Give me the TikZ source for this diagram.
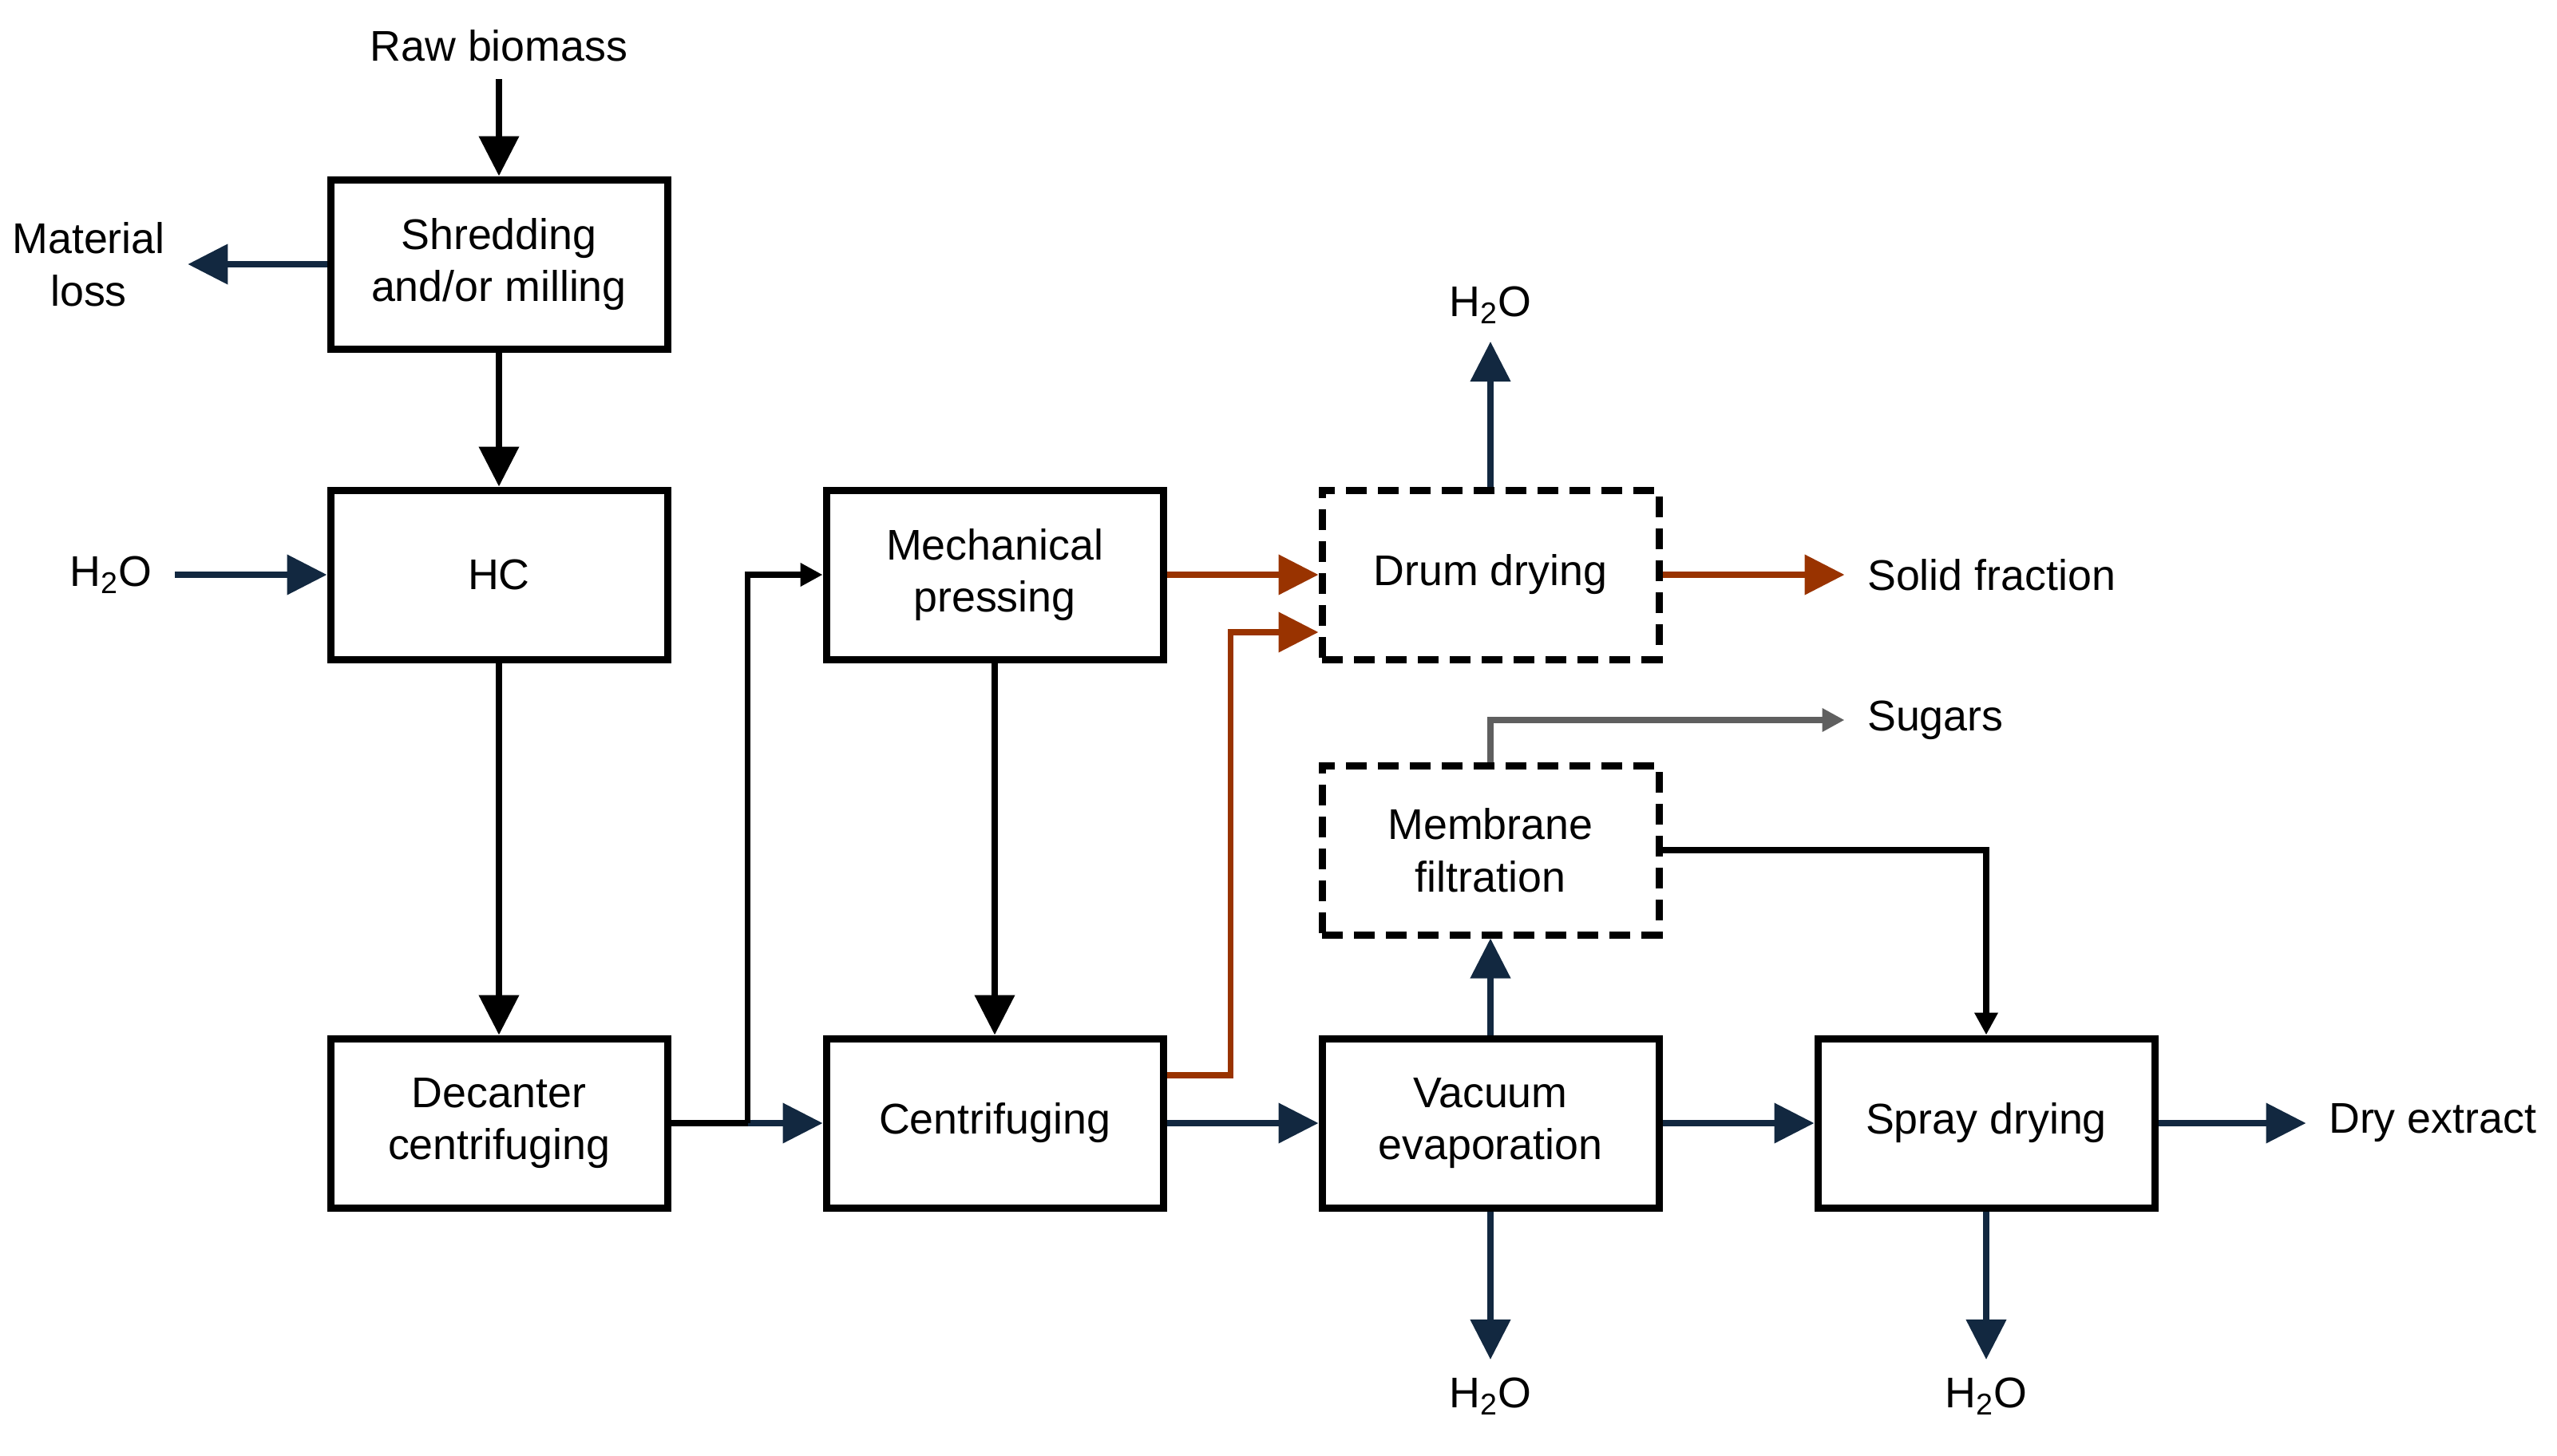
\documentclass[tikz,border=0pt]{standalone}
\usepackage{fontspec}
\setmainfont{Liberation Sans}
\usetikzlibrary{arrows.meta,positioning}
\definecolor{navy}{RGB}{18,40,64}
\definecolor{rust}{RGB}{153,51,0}
\definecolor{sugargray}{RGB}{95,95,95}

\begin{document}
\begin{tikzpicture}[>={Triangle[length=0.5cm,width=0.49cm]},
                    node distance=3.89cm and 6.21cm,on grid,
                    font=\fontsize{15.3}{18.7}\selectfont,
                    box/.style={rectangle,draw,line width=0.09cm,minimum width=4.22cm,
                                minimum height=2.12cm,align=center},
                    dashbox/.style={box,dash pattern=on 0.26cm off 0.14cm},
                    lbl/.style={inner xsep=0.28cm,inner ysep=0.22cm,align=center},
                    flow/.style={line width=0.075cm},
                    small tip/.style={-{Triangle[length=0.28cm,width=0.28cm]}}]
  \useasboundingbox (0,0) rectangle (32.03,-18.24);
  % process steps
  \node[box] (shred) at (6.25,-3.31) {Shredding\\and/or milling};
  \node[box] (hc) [below=of shred] {HC};
  \node[box] (dec) [below=6.87cm of hc] {Decanter\\centrifuging};
  \node[box] (mech) [right=of hc] {Mechanical\\pressing};
  \node[box] (cent) [right=of dec] {Centrifuging};
  \node[dashbox] (drum) [right=of mech] {Drum drying};
  \node[box] (vac) [right=of cent] {Vacuum\\evaporation};
  \node[dashbox] (mem) [below=3.45cm of drum] {Membrane\\filtration};
  \node[box] (spray) [right=of vac] {Spray drying};
  % inputs and outputs
  \node[lbl] (raw) [above=2.74cm of shred] {Raw biomass};
  \node[lbl] (loss) [left=5.14cm of shred] {Material\\loss};
  \node[lbl] (h2oin) [left=4.86cm of hc] {H\textsubscript{2}O};
  \node[lbl] (h2otop) [above=3.38cm of drum] {H\textsubscript{2}O};
  \node[lbl] (solid) [right=2.28cm of drum.east,anchor=west] {Solid fraction};
  \node[lbl] (sug) [above right=1.63cm and 2.28cm of mem.east,anchor=west] {Sugars};
  \node[lbl] (h2ovac) [below=3.42cm of vac] {H\textsubscript{2}O};
  \node[lbl] (h2ospray) [below=3.42cm of spray] {H\textsubscript{2}O};
  \node[lbl] (dry) [right=1.85cm of spray.east,anchor=west] {Dry extract};
  \coordinate[right=0.96cm of dec.east] (split);

  \path[flow,->]
    (raw) edge (shred)
    (shred) edge (hc)
    (hc) edge (dec)
    (mech) edge (cent);
  \path[flow,->,navy]
    (shred) edge (loss)
    (h2oin) edge (hc)
    (split) edge (cent)
    (cent) edge (vac)
    (vac) edge (mem)
          edge (spray)
          edge (h2ovac)
    (drum) edge (h2otop)
    (spray) edge (dry)
            edge (h2ospray);
  \path[flow,->,rust]
    (mech) edge (drum)
    (drum) edge (solid);
  \draw[flow] (dec) -- (split);
  \draw[flow,small tip] (split) |- (mech);
  \draw[flow,rust,->] ([yshift=0.6cm]cent.east) -- ++(0.8,0) |- ([yshift=-0.72cm]drum.west);
  \draw[flow,sugargray,small tip] (mem) |- (sug);
  \draw[flow,small tip] (mem) -| (spray);
\end{tikzpicture}
\end{document}
